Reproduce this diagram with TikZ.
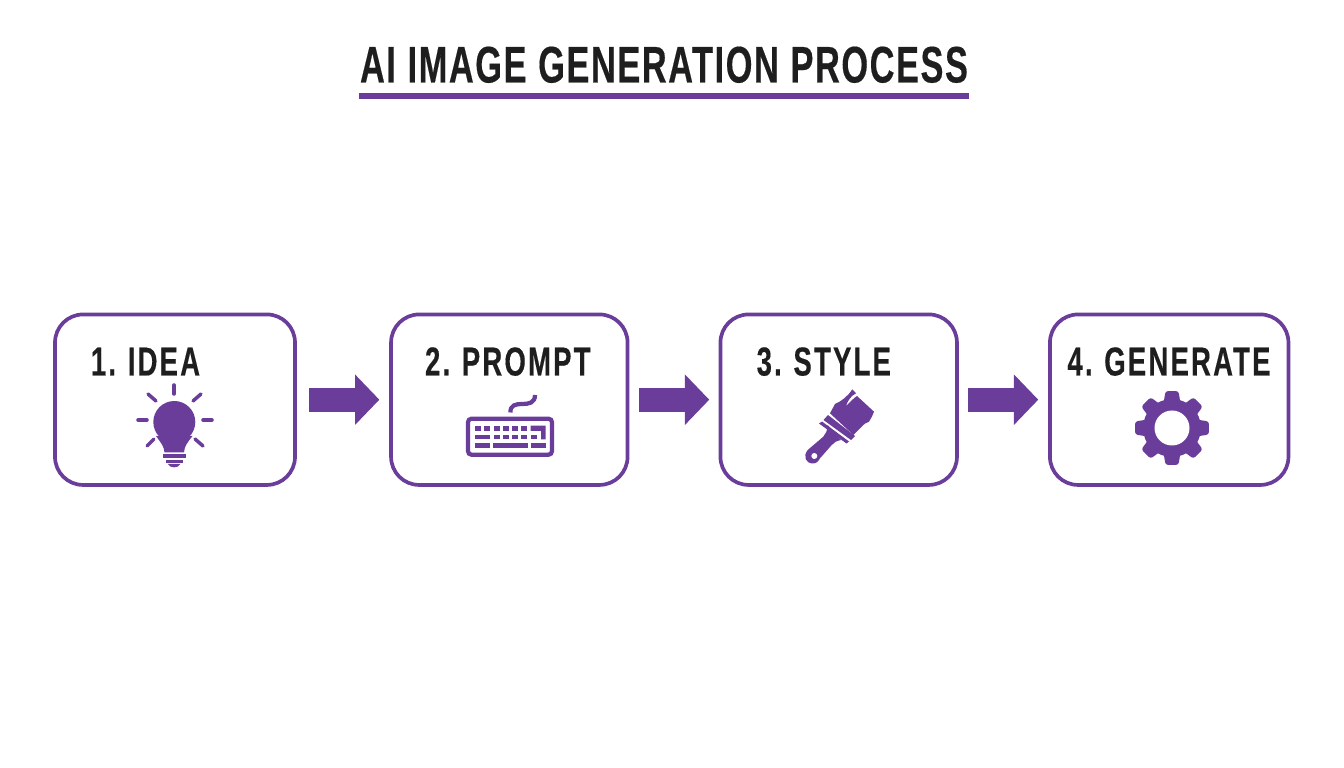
\documentclass[tikz,border=0pt]{standalone}
\usepackage{fontspec}
\newfontfamily\headfont{Liberation Sans}[FakeStretch=0.668, LetterSpace=3, WordSpace=1.05, FakeBold=0.3]
\newfontfamily\stepfont{Liberation Sans}[FakeStretch=0.68, LetterSpace=5.5, WordSpace=0.85, FakeBold=0.3]
\definecolor{brandpurple}{RGB}{106, 61, 154}
\definecolor{inkblack}{RGB}{30, 30, 30}
\usetikzlibrary{arrows.meta, positioning}
\tikzset{
  stepbox/.style={draw=brandpurple, line width=2.1pt, rounded corners=16pt, fill=white, outer sep=0pt, minimum height=3.41cm},
  steplabel/.style={anchor=base, inner sep=0pt, text=inkblack, font=\stepfont\bfseries\fontsize{23}{23}\selectfont},
  steparrow/.style={draw=brandpurple, line width=4.74mm, -{Triangle[length=4.86mm, width=9.8mm]}},
  iconfill/.style={fill=brandpurple, draw=none},
  iconline/.style={draw=brandpurple, line width=2pt, line cap=round}
}

\begin{document}
\begin{tikzpicture}[x=0.2mm, y=-0.2mm]
  \useasboundingbox (0, 0) rectangle (1344, 768);

  % Title
  \node[anchor=base, inner sep=0pt, text=inkblack, font=\headfont\bfseries\fontsize{29.3}{29.3}\selectfont] (title) at (664, 82.5) {AI IMAGE GENERATION PROCESS};
  \coordinate (rulestart) at (359, 96);
  \coordinate (ruleend) at (969, 96);
  \draw[brandpurple, line width=1.14mm] (rulestart) -- (ruleend);

  % Boxes
  \node[stepbox, minimum width=4.8cm] (idea) at (175, 399.7) {};
  \node[stepbox, minimum width=4.73cm] (prompt) at (509.3, 399.7) {};
  \node[stepbox, minimum width=4.73cm] (style) at (838.7, 399.7) {};
  \node[stepbox, minimum width=4.77cm] (generate) at (1169.2, 399.7) {};

  % Labels
  \node[steplabel] (idealabel) at (145.5, 375.5) {1. IDEA};
  \node[steplabel] (promptlabel) at (507.8, 375.5) {2. PROMPT};
  \node[steplabel] (stylelabel) at (823.8, 375.5) {3. STYLE};
  \node[steplabel] (generatelabel) at (1169, 375.5) {4. GENERATE};

  % Arrows
  \draw[steparrow, shorten <=2.8mm, shorten >=2.34mm] (idea) -- (prompt);
  \draw[steparrow, shorten <=2.26mm, shorten >=2.24mm] (prompt) -- (style);
  \draw[steparrow, shorten <=2.26mm, shorten >=2.34mm] (style) -- (generate);

  % Bulb
  \fill[iconfill] (174.3, 422) circle (21);
  \fill[iconfill] (156, 436) .. controls (161, 443) and (164, 446) .. (164.5, 452.5) -- (184, 452.5) .. controls (184.5, 446) and (187, 443) .. (192.5, 436) -- cycle;
  \fill[iconfill] (163, 454.5) rectangle (185.5, 458.5);
  \fill[iconfill] (165.5, 460) rectangle (183, 463);
  \fill[iconfill] (168, 464) .. controls (170, 468.5) and (178, 468.5) .. (180.5, 464) -- cycle;
  \foreach \xa/\ya/\xb/\yb in {174/385/174/394, 138/420/147/420, 203/420/212/420, 148/394/156/401, 201/394/193/401, 147/446/154/439, 203/446/195/439}
    \draw[iconline] (\xa, \ya) -- (\xb, \yb);

  % Keyboard
  \draw[iconline, line width=2.4pt, line cap=butt, rounded corners=2pt] (468, 418.7) rectangle (552, 454.7);
  \draw[iconline, line width=2.4pt, line cap=butt] (510.5, 412.5) .. controls (510, 405) and (516, 404) .. (522, 404) .. controls (529, 404) and (535, 403) .. (535, 395);
  \foreach \xa in {475, 484.3, 493.7, 503, 512, 521.3}
    \fill[iconfill] (\xa, 425.7) rectangle ++(6, 5);
  \foreach \xa in {493.7, 503, 512, 521.3, 530.7}
    \fill[iconfill] (\xa, 434.7) rectangle ++(6, 4.6);
  \fill[iconfill] (475, 434.7) rectangle (490.3, 439.3);
  \fill[iconfill] (475, 443) rectangle (490.3, 448.3);
  \fill[iconfill] (493.3, 443) rectangle (527.7, 448.3);
  \fill[iconfill] (530.7, 443) rectangle (545.7, 448.3);
  \fill[iconfill] (530.7, 425.7) -- (545.7, 425.7) -- (545.7, 439.3) -- (541, 439.3) -- (541, 431) -- (530.7, 431) -- cycle;

  % Brush
  \fill[iconfill] (830, 413.3) -- (835, 404) .. controls (842, 401) and (848, 396) .. (852.3, 389.3) -- (856, 393.3) .. controls (851, 396) and (848, 400) .. (846, 406) .. controls (851, 401) and (854, 398) .. (857, 396) -- (874, 411.7) .. controls (872, 417) and (870, 420) .. (869, 421.7) .. controls (866, 423) and (864, 424) .. (863.3, 425) -- (853.3, 435) -- cycle;
  \fill[iconfill] (828, 415) -- (855, 436) -- (851, 440) -- (823.5, 420) -- cycle;
  \fill[iconfill] (822, 421.5) -- (849, 441.5) -- (846.5, 443.5) -- (819, 423.5) -- cycle;
  \fill[iconfill] (827.7, 425) .. controls (827, 431) and (826, 434) .. (823.3, 436.7) -- (807.7, 450) .. controls (803, 456) and (805, 463.5) .. (813.3, 463.5) .. controls (817, 463.5) and (819, 460) .. (820, 458.3) -- (831.7, 445) .. controls (834, 442) and (837, 441) .. (841, 440) -- cycle;
  \fill[white] (814.3, 456) circle (3);

  % Gear
  \fill[iconfill] (1172, 428) circle (29);
  \foreach \ang in {0, 45, ..., 315}
    \fill[iconfill, shift={(1172, 428)}, rounded corners=1.5pt] (\ang-19:26) -- (\ang-10:37.5) -- (\ang+10:37.5) -- (\ang+19:26) -- cycle;
  \fill[white] (1172, 428) circle (17.5);
\end{tikzpicture}
\end{document}
